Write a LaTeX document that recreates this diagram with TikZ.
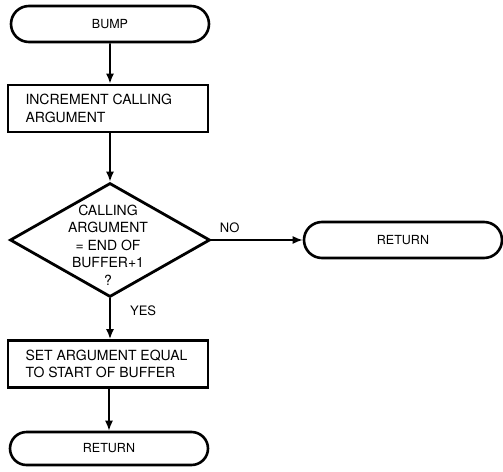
\documentclass[tikz,border=0pt]{standalone}
\usepackage{fontspec}
\setmainfont{TeX Gyre Heros}
\usetikzlibrary{shapes.geometric,shapes.misc,arrows.meta}
\begin{document}
\begin{tikzpicture}[x=1pt,y=-1pt,
  term/.style={draw,line width=2.6pt,rounded rectangle,minimum width=198pt,minimum height=36pt,inner sep=0pt,font=\fontsize{12.5}{14}\selectfont},
  proc/.style={draw,line width=2.8pt,minimum width=200pt,minimum height=47pt,inner sep=0pt},
  dec/.style={draw,line width=2.8pt,diamond,minimum width=200pt,minimum height=114pt,inner sep=0pt,aspect=1.75},
  ptext/.style={anchor=west,align=left,font=\fontsize{14}{17.5}\selectfont},
  dtext/.style={align=center,font=\fontsize{14}{17.5}\selectfont},
  conn/.style={line width=1.6pt,-{Latex[length=10pt,width=8pt]}},
  lbl/.style={font=\fontsize{13}{15}\selectfont}]
\useasboundingbox (0,0) rectangle (503,471);
\node[term] (bump) at (110,24) {BUMP};
\node[proc] (inc) at (108,108.5) {};
\node[ptext] (inct) at (22,108.5) {INCREMENT CALLING\\ARGUMENT};
\node[dec] (d) at (110,240) {};
\node[dtext] (dt) at (108,245) {CALLING\\ARGUMENT\\= END OF\\BUFFER+1\\?};
\node[term] (ret1) at (403,240) {RETURN};
\node[proc] (set) at (108,364) {};
\node[ptext] (sett) at (22,364) {SET ARGUMENT EQUAL\\TO START OF BUFFER};
\node[term,minimum height=33pt] (ret2) at (109,448.5) {RETURN};
\draw[conn] (bump) -- (bump|-inc.north);
\draw[conn] (inc.south-|d.north) -- (d.north);
\draw[conn] (d.east) -- node[lbl,above=3pt,pos=0.2]{NO} (ret1.west);
\draw[conn] (d.south) -- node[lbl,right=16pt,pos=0.3]{YES} (d.south|-set.north);
\draw[conn] (set.south-|ret2.north) -- (ret2.north);
\end{tikzpicture}
\end{document}
